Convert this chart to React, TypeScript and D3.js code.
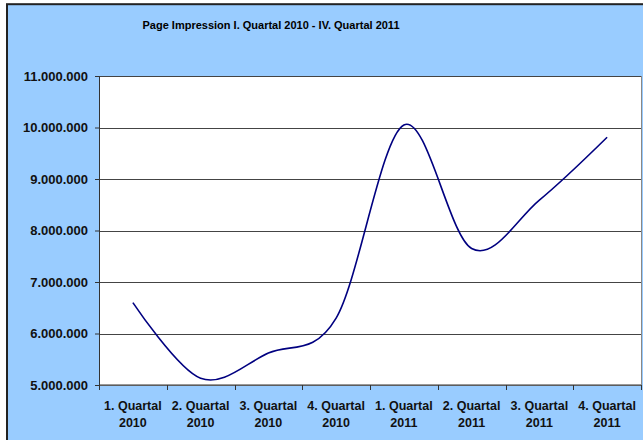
import React, { useEffect, useRef } from 'react';
import * as d3 from 'd3';

// quarters on the x axis (two label lines each)
const quarters = ['1. Quartal', '2. Quartal', '3. Quartal', '4. Quartal', '1. Quartal', '2. Quartal', '3. Quartal', '4. Quartal'];
const years = ['2010', '2010', '2010', '2010', '2011', '2011', '2011', '2011'];
// page impressions per quarter
const impressions = [6600000, 5130000, 5620000, 6300000, 10050000, 7650000, 8590000, 9810000];
const yTicks = [5000000, 6000000, 7000000, 8000000, 9000000, 10000000, 11000000];

const title = 'Page Impression I. Quartal 2010 - IV. Quartal 2011';

const fmt = (v: number) => d3.format(',')(v).replace(/,/g, '.');

const App = () => {
  const svgRef = useRef<SVGSVGElement>(null);
  const width = 643;
  const height = 440;

  useEffect(() => {
    const svg = d3.select(svgRef.current);
    svg.selectAll('*').remove();

    const left = 99, right = 641, top = 76, bottom = 385;
    const font = 'Arial, "Liberation Sans", sans-serif';

    // chart background with dark frame
    svg.append('rect')
      .attr('x', 7).attr('y', 4.2)
      .attr('width', 700).attr('height', 500)
      .attr('fill', '#99ccff')
      .attr('stroke', '#222')
      .attr('stroke-width', 2);

    svg.append('text')
      .attr('x', 271).attr('y', 29)
      .attr('text-anchor', 'middle')
      .attr('font-family', font)
      .attr('font-weight', 'bold')
      .attr('font-size', 11)
      .text(title);

    const keys = quarters.map((q, i) => i);
    const x = d3.scaleBand<number>().domain(keys).range([left, right]);
    const y = d3.scaleLinear().domain([5000000, 11000000]).range([bottom, top]);

    // plot area
    svg.append('rect')
      .attr('x', left).attr('y', top)
      .attr('width', right - left).attr('height', bottom - top)
      .attr('fill', '#fff')
      .attr('stroke', '#888')
      .attr('stroke-width', 1)
      .attr('shape-rendering', 'crispEdges');

    // gridlines
    svg.append('g')
      .selectAll('line')
      .data(yTicks.slice(1))
      .enter().append('line')
      .attr('x1', left).attr('x2', right)
      .attr('y1', d => Math.round(y(d)) + 0.5)
      .attr('y2', d => Math.round(y(d)) + 0.5)
      .attr('stroke', '#444')
      .attr('stroke-width', 1);

    // y axis
    const yAxis = svg.append('g')
      .attr('transform', `translate(${left},0)`)
      .call(d3.axisLeft(y).tickValues(yTicks).tickSize(4).tickPadding(7).tickFormat(d => fmt(d as number)));
    yAxis.select('.domain').attr('stroke', '#333');
    yAxis.selectAll('line').attr('stroke', '#333');
    yAxis.selectAll('text')
      .attr('font-family', font)
      .attr('font-weight', 'bold')
      .attr('font-size', 13)
      .attr('fill', '#111');

    // x axis: ticks at category boundaries
    const xAxis = svg.append('g')
      .attr('transform', `translate(0,${bottom})`);
    xAxis.append('line')
      .attr('x1', left).attr('x2', right)
      .attr('stroke', '#333');
    const bounds = keys.map(k => x(k) as number).concat([right]);
    xAxis.selectAll('.tick')
      .data(bounds)
      .enter().append('line')
      .attr('x1', d => Math.round(d) + 0.5).attr('x2', d => Math.round(d) + 0.5)
      .attr('y1', 0).attr('y2', 5)
      .attr('stroke', '#333');

    const labels = xAxis.selectAll('.lbl')
      .data(keys)
      .enter().append('text')
      .attr('text-anchor', 'middle')
      .attr('font-family', font)
      .attr('font-weight', 'bold')
      .attr('font-size', 12.5)
      .attr('fill', '#111')
      .attr('transform', d => `translate(${(x(d) as number) + x.bandwidth() / 2},0)`);
    labels.append('tspan').attr('x', 0).attr('y', 25).text(d => quarters[d]);
    labels.append('tspan').attr('x', 0).attr('y', 41.5).text(d => years[d]);

    // smoothed line
    const line = d3.line<number>()
      .x((d, i) => (x(i) as number) + x.bandwidth() / 2)
      .y(d => y(d))
      .curve(d3.curveCatmullRom.alpha(0));

    svg.append('path')
      .datum(impressions)
      .attr('fill', 'none')
      .attr('stroke', '#000080')
      .attr('stroke-width', 1.6)
      .attr('d', line);
  }, []);

  return (
    <svg ref={svgRef} width={width} height={height}
      style={{ position: 'absolute', left: 0, top: 0, background: '#fff' }} />
  );
};

export default App;
